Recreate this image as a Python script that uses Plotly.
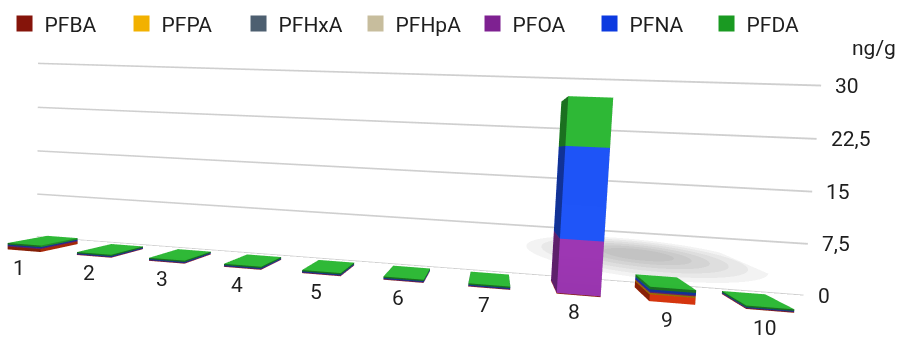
import numpy as np
import plotly.graph_objects as go

# Sample sites along the x axis
categories = ["1", "2", "3", "4", "5", "6", "7", "8", "9", "10"]

# Concentrations per compound (ng/g), stacked bottom to top
series_names = ["PFBA", "PFPA", "PFHxA", "PFHpA", "PFOA", "PFNA", "PFDA"]
pfba = [0.45, 0.05, 0.05, 0.05, 0.05, 0.05, 0.05, 0.10, 0.90, 0.08]
pfpa = [0.0, 0.0, 0.0, 0.0, 0.0, 0.0, 0.0, 0.0, 0.20, 0.0]
pfhxa = [0.0, 0.0, 0.0, 0.0, 0.0, 0.0, 0.0, 0.0, 0.0, 0.0]
pfhpa = [0.0, 0.0, 0.0, 0.0, 0.0, 0.0, 0.0, 0.0, 0.0, 0.0]
pfoa = [0.15, 0.08, 0.08, 0.08, 0.08, 0.08, 0.08, 7.30, 0.15, 0.06]
pfna = [0.15, 0.12, 0.12, 0.12, 0.12, 0.12, 0.12, 12.30, 0.30, 0.10]
pfda = [0.25, 0.20, 0.20, 0.20, 0.20, 0.20, 0.20, 6.50, 0.35, 0.20]

# Value axis ticks
tick_values = [0, 7.5, 15, 22.5, 30]
tick_labels = ["0", "7,5", "15", "22,5", "30"]
unit_label = "ng/g"

series_values = [pfba, pfpa, pfhxa, pfhpa, pfoa, pfna, pfda]
legend_colors = ["#85140a", "#f2b100", "#4d5f70", "#c7bd9d", "#7e2191", "#0c3ae0", "#1a9a22"]
bar_colors = ["#d8340c", "#f5b800", "#55677a", "#cfc6a8", "#9a34b0", "#1c52f5", "#2cb634"]

FONT = "Roboto, Liberation Sans, Arial, sans-serif"
TEXT_COLOR = "#1e1e1e"

# Scene layout in data units
HALF_W = 0.24
Y_FRONT, Y_BACK = 0.33, 0.80
WALL_Y = 1.0
GRID_X = [0.35, 10.8]
GRID_HALF = 0.13
X_RANGE = [0, 11]
Y_RANGE = [0, 4.5]
Z_RANGE = [0, 33]

BOX_FACES = [(0, 2, 1), (0, 3, 2), (4, 5, 6), (4, 6, 7), (0, 1, 5), (0, 5, 4),
             (3, 6, 2), (3, 7, 6), (0, 7, 3), (0, 4, 7), (1, 2, 6), (1, 6, 5)]


def box_mesh(cx_list, bottoms, tops):
    xs, ys, zs, ii, jj, kk = [], [], [], [], [], []
    for cx, z0, z1 in zip(cx_list, bottoms, tops):
        if z1 - z0 <= 0:
            continue
        x0, x1 = cx - HALF_W, cx + HALF_W
        y0, y1 = Y_FRONT, Y_BACK
        base = len(xs)
        for (vx, vy, vz) in [(x0, y0, z0), (x1, y0, z0), (x1, y1, z0), (x0, y1, z0),
                             (x0, y0, z1), (x1, y0, z1), (x1, y1, z1), (x0, y1, z1)]:
            xs.append(vx); ys.append(vy); zs.append(vz)
        for a, b, c in BOX_FACES:
            ii.append(base + a); jj.append(base + b); kk.append(base + c)
    return xs, ys, zs, ii, jj, kk


def flat(color):
    return dict(color=color, flatshading=True, hoverinfo="skip", showlegend=False,
                lighting=dict(ambient=1.0, diffuse=0.0, specular=0.0, fresnel=0.0))


fig = go.Figure()
positions = list(range(1, len(categories) + 1))
totals = [sum(v) for v in zip(*series_values)]

# Soft floor shadow cast by the tallest column (layered translucent ellipses)
peak = int(np.argmax(totals))
sh_cx = positions[peak] + 1.4
sh_cy = WALL_Y + 1.6
t = np.linspace(0, 2 * np.pi, 64, endpoint=False)
for n, scale in enumerate([1.0, 0.86, 0.72, 0.58, 0.44, 0.30]):
    ex = list(sh_cx + 1.8 * scale * np.cos(t)) + [sh_cx]
    ey = list(sh_cy + 1.4 * scale * np.sin(t)) + [sh_cy]
    ez = [0.02 * (n + 1)] * len(ex)
    c = len(ex) - 1
    fig.add_trace(go.Mesh3d(x=ex, y=ey, z=ez,
                            i=[c] * c, j=list(range(c)), k=[(m + 1) % c for m in range(c)],
                            opacity=0.075, **flat("#5e5e5e")))

# Value gridlines: thin flat strips on the back wall
gx, gy, gz, gi, gj, gk = [], [], [], [], [], []
for tv in tick_values:
    b = len(gx)
    gx += [GRID_X[0], GRID_X[1], GRID_X[1], GRID_X[0]]
    gy += [WALL_Y] * 4
    gz += [tv - GRID_HALF, tv - GRID_HALF, tv + GRID_HALF, tv + GRID_HALF]
    gi += [b, b]; gj += [b + 1, b + 2]; gk += [b + 2, b + 3]
fig.add_trace(go.Mesh3d(x=gx, y=gy, z=gz, i=gi, j=gj, k=gk, **flat("#cfcfcf")))

# Stacked 3D bars
running = [0.0] * len(categories)
for name, vals, col in zip(series_names, series_values, bar_colors):
    bottoms = running[:]
    tops = [b + v for b, v in zip(bottoms, vals)]
    running = tops
    xs, ys, zs, ii, jj, kk = box_mesh(positions, bottoms, tops)
    if not xs:
        continue
    fig.add_trace(go.Mesh3d(
        x=xs, y=ys, z=zs, i=ii, j=jj, k=kk, color=col, flatshading=True,
        lighting=dict(ambient=0.6, diffuse=0.55, specular=0.05, roughness=0.9, fresnel=0.0),
        lightposition=dict(x=3000, y=-6000, z=5000),
        hoverinfo="skip", showlegend=False, name=name))

# Legend entries
for name, col in zip(series_names, legend_colors):
    fig.add_trace(go.Scatter3d(x=[None], y=[None], z=[None], mode="markers",
                               marker=dict(symbol="square", size=20, color=col),
                               name=name, showlegend=True))

annotations = []
for tv, lab in zip(tick_values, tick_labels):
    annotations.append(dict(x=GRID_X[1], y=WALL_Y, z=tv, text=lab, showarrow=False,
                            xanchor="left", xshift=12,
                            font=dict(family=FONT, size=21, color=TEXT_COLOR)))
for p, lab in zip(positions, categories):
    annotations.append(dict(x=p, y=Y_FRONT, z=0, text=lab, showarrow=False,
                            yanchor="top", yshift=-3, xshift=-5,
                            font=dict(family=FONT, size=21, color=TEXT_COLOR)))

hidden = dict(visible=False, showgrid=False, zeroline=False, showbackground=False,
              showspikes=False)

fig.update_layout(
    width=904, height=338,
    margin=dict(l=0, r=0, t=0, b=0),
    paper_bgcolor="white",
    showlegend=True,
    legend=dict(orientation="h", x=0.005, y=0.99, xanchor="left", yanchor="top",
                entrywidthmode="pixels", entrywidth=72,
                font=dict(family=FONT, size=21, color=TEXT_COLOR),
                bgcolor="rgba(0,0,0,0)", itemclick=False, itemdoubleclick=False),
    scene=dict(
        domain=dict(x=[0, 1], y=[0, 1]),
        xaxis=dict(range=X_RANGE, **hidden),
        yaxis=dict(range=Y_RANGE, **hidden),
        zaxis=dict(range=Z_RANGE, **hidden),
        aspectmode="manual",
        aspectratio=dict(x=1.0, y=0.40909, z=0.25341),
        camera=dict(eye=dict(x=0.13455, y=-0.59636, z=0.012568),
                    center=dict(x=0.08864, y=-0.14439, z=-0.00587),
                    up=dict(x=-0.05057, y=0.02815, z=0.99832),
                    projection=dict(type="perspective")),
        dragmode=False,
        annotations=annotations,
    ),
    annotations=[dict(x=0.993, y=0.858, xref="paper", yref="paper", text=unit_label,
                      showarrow=False, xanchor="right", yanchor="middle",
                      font=dict(family=FONT, size=21, color=TEXT_COLOR))],
)

fig.write_html("out.html")
